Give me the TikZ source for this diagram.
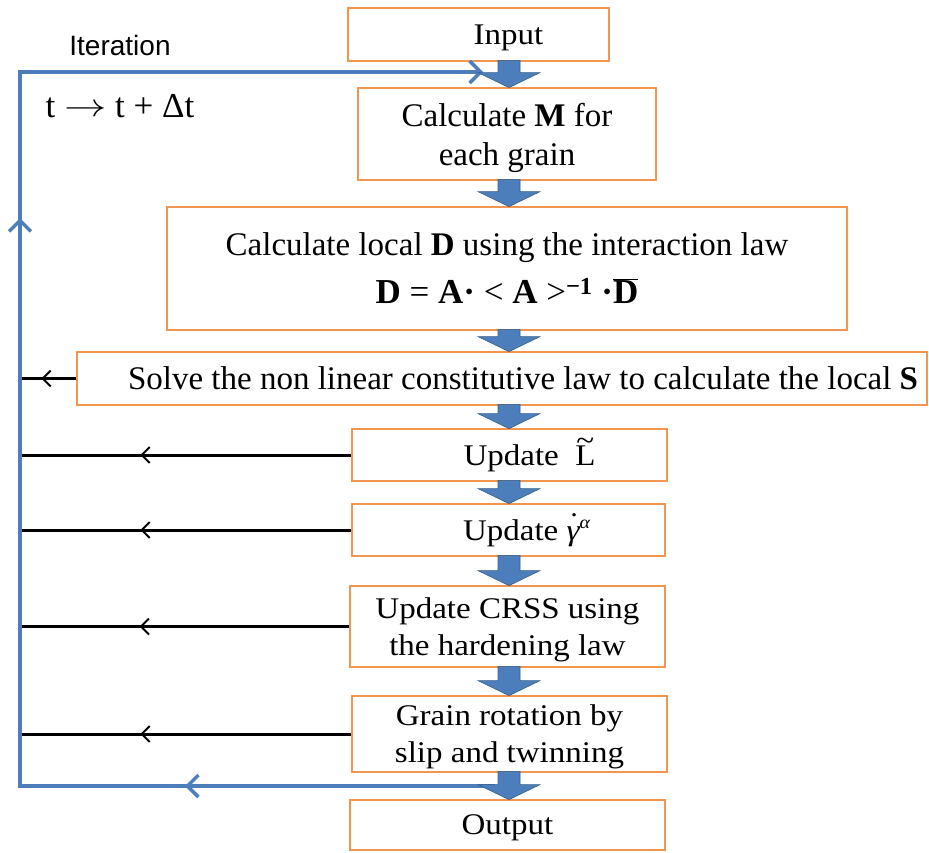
\documentclass[tikz,border=0pt]{standalone}
\usepackage{graphicx}
\usepackage{fontspec}
\setmainfont{Liberation Serif}
\newfontfamily\arialf{Liberation Sans}
\newfontfamily\cambf[FakeStretch=1.1]{Liberation Serif}
\usetikzlibrary{arrows.meta,calc,decorations.markings}
\definecolor{boxor}{RGB}{240,150,80}
\definecolor{flowblue}{RGB}{76,126,187}
\definecolor{flowblueD}{RGB}{56,93,138}
\newcommand\blk[2]{%
  \path[fb] let \p1=(ax |- #1.south), \p2=(ax |- #2.north) in
  (\x1-11pt,\y1+2pt) -- (\x1+11pt,\y1+2pt) -- (\x1+11pt,\y2+14pt) -- (\x1+31pt,\y2+14pt)
  -- (\x1,\y2-1pt) -- (\x1-31pt,\y2+14pt) -- (\x1-11pt,\y2+14pt) -- cycle;}
\newcommand\tildeL{\ooalign{L\cr\hidewidth\raisebox{15pt}{\textasciitilde}\hidewidth\cr}}
\newcommand\dotgamma{\ooalign{\itshape γ\cr\hidewidth\raisebox{7pt}{\kern2pt\fontsize{30}{30}\selectfont˙}\hidewidth\cr}}
\begin{document}
\begin{tikzpicture}[x=1pt,y=-1pt,
  box/.style={draw=boxor,line width=2.8pt,fill=white,inner sep=0pt,align=center,text depth=0pt},
  timesf/.style={font=\fontsize{33}{39}\selectfont},
  cambs/.style={font=\cambf\fontsize{30}{37}\selectfont},
  fb/.style={fill=flowblue,draw=flowblueD,line width=0.6pt},
  BTip/.tip={Straight Barb[length=11pt,width=22pt,line width=3.5pt]},
  KTip/.tip={Straight Barb[length=8pt,width=16pt,line width=2pt]},
  loopline/.style={draw=flowblue,line width=4pt,line join=miter,-BTip,
    postaction={decorate},
    decoration={markings,
      mark=at position 310pt with {\arrow{BTip}},
      mark=at position 1043pt with {\arrow{BTip}}}},
  back/.style={draw=black,line width=3pt,postaction={decorate},
    decoration={markings,mark=at position 0.64 with {\arrow{KTip}}}},
]
\useasboundingbox (0,0) rectangle (929,852);
\coordinate (ax) at (509,0);

% boxes
\node[box,cambs,minimum width=261pt,minimum height=53pt] (in) at (478.5,34.5) {\hspace*{60pt}Input};
\node[box,timesf,minimum width=298pt,minimum height=92pt] (m) at (507,134) {Calculate \textbf{M} for\\each grain};
\node[box,timesf,minimum width=680pt,minimum height=123pt] (d) at (507,268.5)
  {Calculate local \textbf{D} using the interaction law\\[9pt]
   \fontsize{35}{39}\selectfont\textbf{D} = \textbf{A}\textbf{·} < \textbf{A} >\textsuperscript{\textbf{−1}} \textbf{·}$\overline{\mbox{\textbf{D}}}$};
\node[box,timesf,minimum width=850pt,minimum height=53pt] (s) at (502,378.5)
  {\hspace*{42pt}Solve the non linear constitutive law to calculate the local \textbf{S}};
\node[box,cambs,minimum width=315pt,minimum height=52pt] (l) at (509.5,455)
  {\hspace*{40pt}Update~~\tildeL};
\node[box,cambs,minimum width=313pt,minimum height=52pt] (g) at (508.5,530)
  {\hspace*{36pt}Update~\dotgamma\raisebox{12pt}{\fontsize{18}{20}\selectfont\itshape α}};
\node[box,cambs,minimum width=315pt,minimum height=81pt] (c) at (507.5,626.5)
  {Update CRSS using\\the hardening law};
\node[box,cambs,minimum width=315pt,minimum height=76pt] (r) at (509.5,734)
  {Grain rotation by\\slip and twinning};
\node[box,cambs,minimum width=315pt,minimum height=50pt] (o) at (507.5,825) {Output};

% labels
\node[font=\arialf\fontsize{28}{32}\selectfont,inner sep=0pt] (itlbl) at (120,45) {Iteration};
\node[font=\fontsize{35}{40}\selectfont,inner sep=0pt] (tlbl) at (120,106)
  {t \raisebox{1pt}{\scalebox{1.7}[1.3]{$\rightarrow$}} t + Δt};

% feedback lines
\coordinate (ls) at (22,378.5);
\coordinate (ll) at (22,455);
\coordinate (lg) at (22,530);
\coordinate (lc) at (22,626.5);
\coordinate (lr) at (22,734);
\draw[back] (s.west) -- (ls);
\draw[back] (l.west) -- (ll);
\draw[back] (g.west) -- (lg);
\draw[back] (c.west) -- (lc);
\draw[back] (r.west) -- (lr);

% iteration loop
\coordinate (loopS) at (495,786);
\coordinate (loopA) at (20,786);
\coordinate (loopB) at (20,72);
\coordinate (loopE) at (483,72);
\draw[loopline] (loopS) -- (loopA) -- (loopB) -- (loopE);

% block arrows
\blk{in}{m}
\blk{m}{d}
\blk{d}{s}
\blk{s}{l}
\blk{l}{g}
\blk{g}{c}
\blk{c}{r}
\blk{r}{o}
\end{tikzpicture}
\end{document}
